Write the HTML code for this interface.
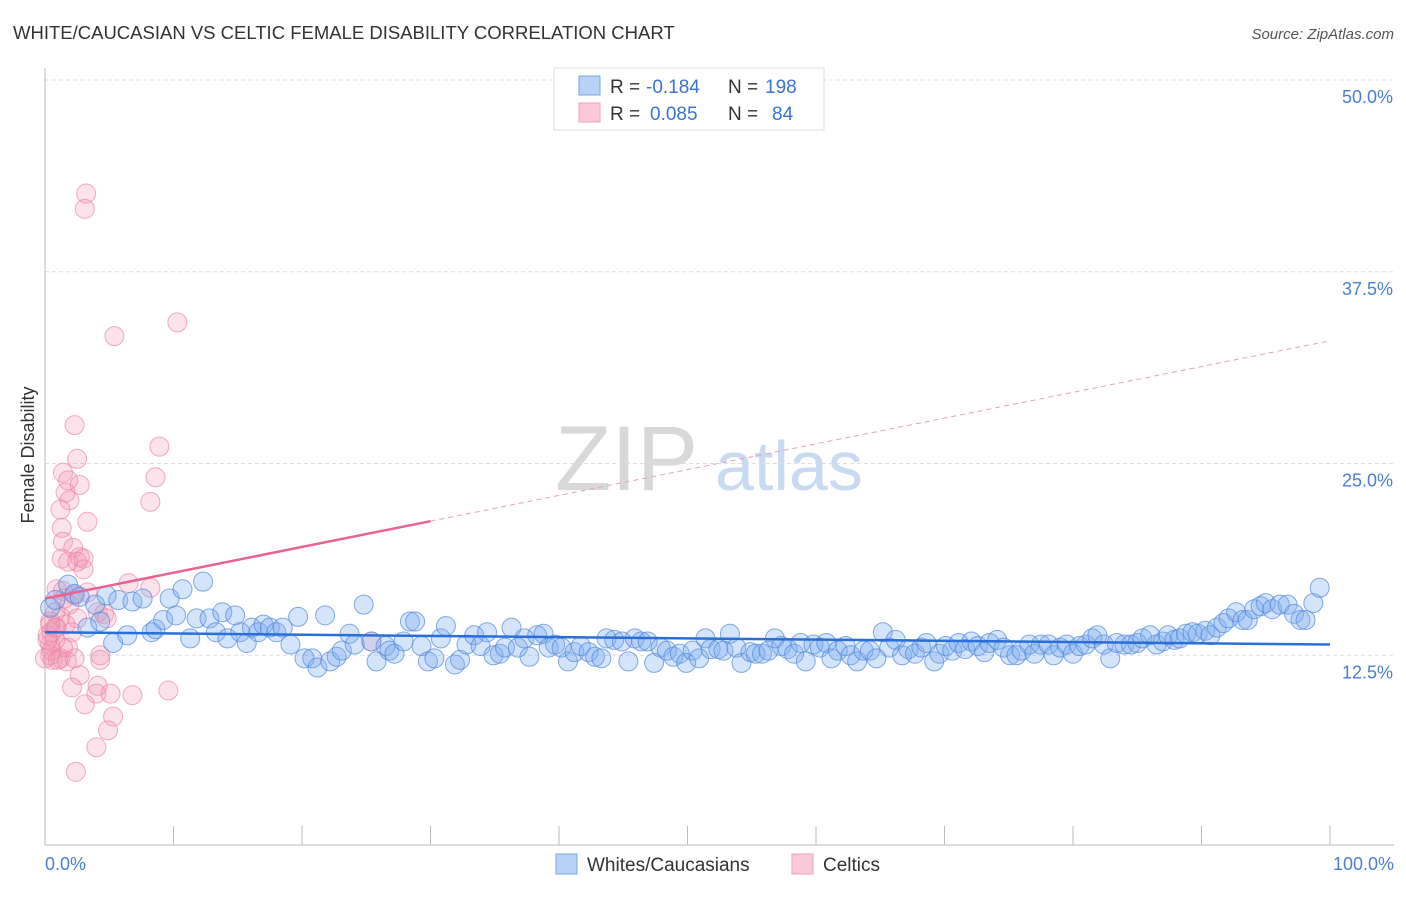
<!DOCTYPE html>
<html><head><meta charset="utf-8"><style>
body{margin:0;background:#fff;width:1406px;height:892px;overflow:hidden;font-family:"Liberation Sans",sans-serif}
svg text{font-family:"Liberation Sans",sans-serif}
</style></head><body>
<svg id="chart" width="1406" height="892" xmlns="http://www.w3.org/2000/svg">
<text x="13" y="39" font-size="18.5" fill="#333">WHITE/CAUCASIAN VS CELTIC FEMALE DISABILITY CORRELATION CHART</text>
<text x="1394" y="39" font-size="15" fill="#555" text-anchor="end" font-style="italic">Source: ZipAtlas.com</text>
<text transform="translate(34,455) rotate(-90)" font-size="18" fill="#333" text-anchor="middle">Female Disability</text>
<g>
<text x="555" y="490" font-size="92" fill="#d8d8d8" font-family="Liberation Serif">ZIP</text>
<text x="715" y="490" font-size="70" fill="#c7daf2">atlas</text>
</g>
<g id="grid"></g>
<g id="axes"></g>
<g id="pink"></g>
<g id="blue"></g>
<g id="trends"></g>
<g>
<rect x="554" y="68" width="270" height="62" fill="#fff" stroke="#ddd"/>
<rect x="579" y="76" width="21" height="19" fill="#b8d2f5" stroke="#7aa6e6"/>
<rect x="579" y="103" width="21" height="19" fill="#fac8d8" stroke="#eea0ba"/>
<text x="610" y="93" font-size="19" fill="#333">R =</text>
<text x="646" y="93" font-size="19" fill="#3a74d0">-0.184</text>
<text x="728" y="93" font-size="19" fill="#333">N =</text>
<text x="765" y="93" font-size="19" fill="#3a74d0">198</text>
<text x="610" y="120" font-size="19" fill="#333">R =</text>
<text x="650" y="120" font-size="19" fill="#3a74d0">0.085</text>
<text x="728" y="120" font-size="19" fill="#333">N =</text>
<text x="772" y="120" font-size="19" fill="#3a74d0">84</text>
</g>
<g>
<rect x="556" y="854" width="21" height="20" fill="#b8d2f5" stroke="#7aa6e6"/>
<text x="587" y="871" font-size="19" fill="#333">Whites/Caucasians</text>
<rect x="792" y="854" width="21" height="20" fill="#fac8d8" stroke="#eea0ba"/>
<text x="823" y="871" font-size="19" fill="#333">Celtics</text>
</g>
</svg>
<script>
const yTicks=[12.5,25,37.5,50];
const yTickLabels=["12.5%","25.0%","37.5%","50.0%"];
const xTickLabels=["0.0%","100.0%"];
const blueX=[0.4,0.8,1.8,2.3,2.7,3.3,3.9,4.3,4.8,5.3,5.7,6.4,6.8,7.6,8.3,8.6,9.2,9.7,10.2,10.7,11.3,11.8,12.3,12.8,13.3,13.8,14.2,14.8,15.2,15.7,16.1,16.6,17.0,17.5,18.0,18.5,19.1,19.7,20.2,20.8,21.2,21.8,22.2,22.7,23.1,23.7,24.1,24.8,25.4,25.8,26.5,26.8,27.2,27.9,28.4,28.8,29.3,29.8,30.3,30.8,31.2,31.9,32.3,32.8,33.4,33.9,34.4,34.9,35.4,35.8,36.3,36.8,37.3,37.7,38.3,38.8,39.2,39.7,40.2,40.7,41.2,41.7,42.3,42.8,43.3,43.7,44.3,44.9,45.4,45.9,46.4,46.9,47.4,47.9,48.4,48.9,49.4,49.9,50.4,50.9,51.4,51.8,52.4,52.8,53.3,53.8,54.2,54.9,55.3,55.8,56.3,56.8,57.3,57.8,58.3,58.8,59.2,59.8,60.3,60.8,61.2,61.7,62.3,62.7,63.2,63.7,64.2,64.7,65.2,65.7,66.2,66.7,67.2,67.7,68.2,68.6,69.2,69.6,70.1,70.6,71.1,71.6,72.1,72.6,73.1,73.5,74.1,74.6,75.1,75.6,76.0,76.6,77.0,77.5,78.1,78.5,79.0,79.5,80.0,80.5,81.0,81.5,81.9,82.4,82.9,83.4,84.0,84.5,85.0,85.4,86.0,86.5,87.0,87.4,87.9,88.3,88.8,89.3,89.7,90.3,90.7,91.2,91.7,92.1,92.7,93.2,93.6,94.1,94.6,95.0,95.5,96.1,96.7,97.2,97.7,98.1,98.7,99.2];
const blueY=[15.6,16.1,17.1,16.5,16.3,14.3,15.8,14.7,16.4,13.3,16.1,13.8,16.0,16.2,14.0,14.2,14.8,16.2,15.1,16.8,13.6,14.9,17.3,14.9,14.0,15.3,13.6,15.1,14.0,13.3,14.3,14.0,14.5,14.3,14.0,14.3,13.2,15.0,12.3,12.3,11.7,15.1,12.1,12.4,12.8,13.9,13.2,15.8,13.4,12.1,13.1,12.8,12.6,13.4,14.7,14.7,13.1,12.1,12.3,13.6,14.4,11.9,12.2,13.2,13.8,13.1,14.0,12.5,12.6,13.0,14.3,13.0,13.6,12.4,13.8,13.9,13.0,13.2,13.0,12.1,12.7,13.1,12.7,12.4,12.3,13.6,13.5,13.4,12.1,13.6,13.4,13.4,12.0,13.0,12.8,12.4,12.6,12.0,12.8,12.3,13.6,12.9,12.9,12.8,13.9,13.0,12.0,12.7,12.6,12.6,12.8,13.6,13.1,12.9,12.6,13.3,12.1,13.2,13.0,13.3,12.3,12.8,13.1,12.5,12.1,12.8,12.8,12.3,14.0,13.0,13.5,12.5,12.9,12.6,13.0,13.3,12.1,12.6,13.1,12.8,13.3,12.9,13.4,13.1,12.7,13.3,13.5,13.0,12.5,12.5,12.8,13.2,12.6,13.2,13.2,12.5,13.0,13.2,12.6,13.1,13.2,13.6,13.8,13.2,12.3,13.3,13.2,13.2,13.3,13.6,13.8,13.2,13.4,13.8,13.5,13.6,13.9,14.0,13.9,14.1,13.8,14.3,14.6,14.9,15.3,14.8,14.8,15.5,15.7,15.9,15.5,15.8,15.8,15.2,14.8,14.8,15.9,16.9];
const pinkX=[3.2,3.1,10.3,5.4,2.3,8.9,2.5,1.4,8.6,1.8,2.7,1.6,8.2,1.9,1.2,3.3,1.3,1.4,2.2,1.3,2.7,1.8,2.5,3.0,3.0,6.5,8.2,0.9,1.4,2.3,3.3,1.5,4.1,4.6,4.8,0.8,1.2,2.5,0.4,0.8,1.6,0.5,2.1,0.8,0.4,1.4,1.8,0.4,1.2,2.3,4.3,0.6,1.7,2.7,2.1,4.1,4.0,5.1,6.8,9.6,3.1,5.3,4.9,4.0,2.4,25.4,0.2,0.0,0.5,0.9,0.2,1.9,1.0,0.4,4.3];
const pinkY=[42.6,41.6,34.2,33.3,27.5,26.1,25.3,24.4,24.1,23.9,23.6,23.1,22.5,22.6,22.0,21.2,20.8,19.9,19.5,18.8,18.9,18.6,18.6,18.8,18.1,17.2,16.9,16.8,16.7,16.4,16.6,16.2,15.3,15.2,14.9,15.3,15.0,14.9,14.7,14.3,14.5,14.0,14.0,13.5,13.2,13.0,13.0,12.5,12.3,12.3,12.5,12.2,12.1,11.2,10.4,10.5,10.0,10.0,9.9,10.2,9.3,8.5,7.6,6.5,4.9,13.4,13.8,12.3,12.8,14.3,13.5,15.8,12.2,14.5,12.2];
const blueTrend=[14.0,13.2];
const pinkTrend=[16.2,33.0];
const pinkSolidEnd=30;

const NS="http://www.w3.org/2000/svg";
const X0=45,X1=1330,Y0=847,PXV=15.34;
function sx(v){return X0+(X1-X0)*v/100;}
function sy(v){return Y0-v*PXV;}
function mk(tag,attrs,parent){const e=document.createElementNS(NS,tag);for(const k in attrs)e.setAttribute(k,attrs[k]);parent.appendChild(e);return e;}
const grid=document.getElementById('grid'),axes=document.getElementById('axes');
yTicks.forEach((t,i)=>{
  const l=mk('line',{x1:X0,x2:1394,y1:sy(t),y2:sy(t),stroke:'#ddd','stroke-dasharray':'4,3'},grid);
  
  
  const tx=mk('text',{x:1393,y:sy(t)+23,'font-size':18,fill:'#4a7fd4','text-anchor':'end'},axes);
  tx.textContent=yTickLabels[i];
  
  
});
const ya=mk('line',{x1:X0,x2:X0,y1:68,y2:845,stroke:'#bbb'},axes);


const xa=mk('line',{x1:X0,x2:1394,y1:845,y2:845,stroke:'#bbb'},axes);


for(let i=0;i<=10;i++){
  const tk=mk('line',{x1:sx(i*10),x2:sx(i*10),y1:826,y2:845,stroke:'#bbb'},axes);
  
  
}
const xl0=mk('text',{x:45,y:870,'font-size':18,fill:'#4a7fd4'},axes);xl0.textContent=xTickLabels[0];


const xl1=mk('text',{x:1394,y:870,'font-size':18,fill:'#4a7fd4','text-anchor':'end'},axes);xl1.textContent=xTickLabels[1];


const pg=document.getElementById('pink');
pinkX.forEach((x,i)=>{
  const c=mk('circle',{cx:sx(x),cy:sy(pinkY[i]),r:9.5,fill:'rgba(244,150,180,0.28)',stroke:'rgba(232,130,165,0.65)','stroke-width':1},pg);
  
  
});
const bg=document.getElementById('blue');
blueX.forEach((x,i)=>{
  const c=mk('circle',{cx:sx(x),cy:sy(blueY[i]),r:9.5,fill:'rgba(120,170,240,0.32)',stroke:'rgba(80,135,220,0.7)','stroke-width':1},bg);
  
  
});
const tg=document.getElementById('trends');
const pAt=v=>pinkTrend[0]+(pinkTrend[1]-pinkTrend[0])*v/100;
const bt=mk('line',{x1:sx(0),y1:sy(blueTrend[0]),x2:sx(100),y2:sy(blueTrend[1]),stroke:'#2a6fd8','stroke-width':2.5},tg);


const ps=mk('line',{x1:sx(0),y1:sy(pAt(0)),x2:sx(pinkSolidEnd),y2:sy(pAt(pinkSolidEnd)),stroke:'#e8648f','stroke-width':2.5},tg);


const pd=mk('line',{x1:sx(pinkSolidEnd),y1:sy(pAt(pinkSolidEnd)),x2:sx(100),y2:sy(pAt(100)),stroke:'#e8a0b8','stroke-width':1,'stroke-dasharray':'5,4'},tg);


</script>
</body></html>
